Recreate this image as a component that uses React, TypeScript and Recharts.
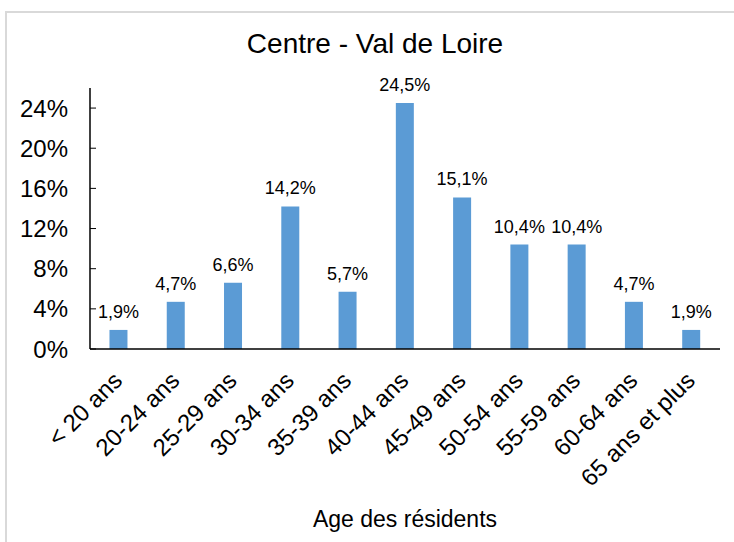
import React from 'react';
import { BarChart, Bar, XAxis, YAxis, LabelList, Label } from 'recharts';

const ageGroups = [
  '< 20 ans',
  '20-24 ans',
  '25-29 ans',
  '30-34 ans',
  '35-39 ans',
  '40-44 ans',
  '45-49 ans',
  '50-54 ans',
  '55-59 ans',
  '60-64 ans',
  '65 ans et plus',
];
const shares = [1.9, 4.7, 6.6, 14.2, 5.7, 24.5, 15.1, 10.4, 10.4, 4.7, 1.9];
const yTicks = [0, 4, 8, 12, 16, 20, 24];

const data = ageGroups.map((age, i) => ({ age, value: shares[i] }));

const FONT = 'Liberation Sans, Arial, sans-serif';

const fmt = (v: number) => `${v.toFixed(1).replace('.', ',')}%`;

function AgeTick({ x, y, payload }: any) {
  const tx = x + 5;
  const ty = y + 25;
  return (
    <text
      x={tx}
      y={ty}
      transform={`rotate(-45 ${tx} ${ty})`}
      textAnchor="end"
      fontSize={24}
      fontFamily={FONT}
      fill="#000"
    >
      {payload.value}
    </text>
  );
}

export default function App() {
  return (
    <div style={{ position: 'absolute', left: 0, top: 0, width: 734, height: 542, background: '#fff', overflow: 'hidden' }}>
      <div style={{ position: 'absolute', left: 5, top: 12, width: 2, height: 530, background: '#d9d9d9' }} />
      <div style={{ position: 'absolute', left: 5, top: 11, width: 729, height: 2, background: '#d9d9d9' }} />
      <div
        style={{
          position: 'absolute',
          left: 0,
          top: 28,
          width: 750,
          textAlign: 'center',
          fontFamily: FONT,
          fontSize: 28,
          lineHeight: '32px',
          color: '#000',
        }}
      >
        Centre - Val de Loire
      </div>
      <BarChart
        width={734}
        height={542}
        data={data}
        margin={{ top: 88, right: 14, bottom: 0, left: 0 }}
        barCategoryGap="34%"
        style={{ position: 'absolute', left: 0, top: 0 }}
      >
        <XAxis
          dataKey="age"
          height={193}
          interval={0}
          tickLine={false}
          axisLine={{ stroke: '#000', strokeWidth: 1.5 }}
          tick={<AgeTick />}
        >
          <Label
            value="Age des résidents"
            position="insideBottom"
            offset={15}
            style={{ fontSize: 23, fontFamily: FONT, fill: '#000' }}
          />
        </XAxis>
        <YAxis
          width={90}
          domain={[0, 26]}
          ticks={yTicks}
          interval={0}
          tickFormatter={(v: number) => `${v}%`}
          tickSize={-6}
          tickMargin={28}
          tickLine={{ stroke: '#000' }}
          axisLine={{ stroke: '#000', strokeWidth: 1.5 }}
          tick={{ fontSize: 24, fontFamily: FONT, fill: '#000' }}
        />
        <Bar dataKey="value" fill="#5b9bd5" isAnimationActive={false}>
          <LabelList
            dataKey="value"
            position="top"
            offset={12}
            formatter={(v: any) => fmt(Number(v))}
            style={{ fontSize: 18, fontFamily: FONT, fill: '#000' }}
          />
        </Bar>
      </BarChart>
    </div>
  );
}
